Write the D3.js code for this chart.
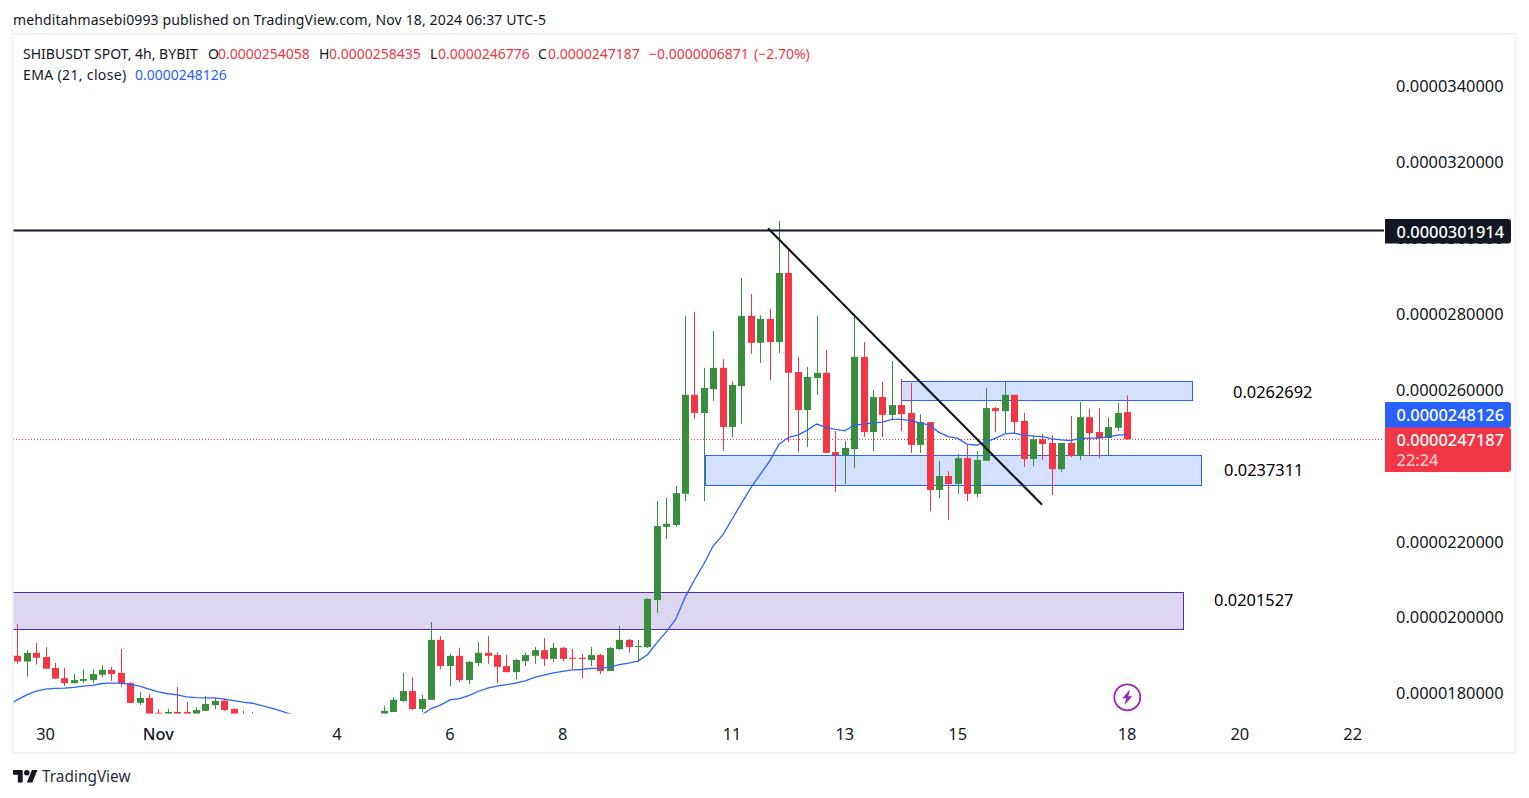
<!DOCTYPE html>
<html>
<head>
<meta charset="utf-8">
<title>SHIBUSDT</title>
<script src="https://cdn.jsdelivr.net/npm/d3@7"></script>
<style>
  html, body { margin: 0; padding: 0; background: #fff; }
  text { font-family: "Noto Sans", sans-serif; }
</style>
</head>
<body>
<svg id="chart" width="1529" height="798"></svg>
<script>
// prices are in units of 0.0000001
// candle 0 sits just left of the visible pane, candles 27-39 are under the pane's bottom edge
const opens = [188.0,
  189.8,188.3,190.6,189.5,186.6,183.9,182.6,183.2,183.4,184.8,
  186.1,185.3,182.6,177.4,178.7,174.8,172.5,175.0,175.0,172.8,
  175.3,176.8,178.0,175.8,172.4,173.9,172.6,171.4,170.2,170.8,
  169.6,168.4,169.2,167.8,168.6,169.8,170.6,171.8,172.4,173.5,
  175.0,177.9,180.5,175.8,178.2,194.0,187.1,189.8,183.4,187.9,
  190.6,190.0,187.1,185.5,188.4,189.8,191.3,189.0,191.9,189.3,
  189.3,188.7,190.0,185.8,191.6,194.0,192.1,192.1,204.5,223.8,
  224.3,232.5,258.6,253.8,260.1,265.7,250.1,260.9,279.4,272.3,
  278.6,272.5,290.7,264.6,254.6,263.0,264.4,243.5,242.7,244.3,
  268.6,248.8,258.0,253.3,255.9,253.8,245.4,251.4,233.5,237.2,
  235.1,241.9,232.5,241.2,255.1,254.3,258.6,251.7,241.7,246.9,
  245.9,239.0,245.9,242.5,252.7,248.8,247.2,249.9,254.06];
const closes = [189.8,
  188.3,190.6,189.3,186.4,183.8,182.6,183.4,183.7,185.0,186.1,
  185.0,182.5,177.4,178.7,172.0,173.6,175.0,173.5,172.8,175.5,
  177.1,177.9,175.5,173.4,174.0,172.6,171.4,170.2,170.8,169.6,
  168.4,169.2,167.8,168.6,169.8,170.6,171.8,172.4,173.5,175.3,
  178.2,180.5,175.8,178.4,194.0,187.1,189.8,183.4,188.2,190.6,
  189.8,186.9,185.5,188.7,190.0,191.3,189.0,191.9,189.0,189.0,
  189.0,190.0,185.8,191.9,194.0,192.1,192.4,204.8,224.0,224.6,
  232.7,258.6,253.8,260.4,265.7,250.1,261.2,279.4,272.3,278.6,
  272.5,290.7,264.4,254.6,263.3,264.4,243.3,242.7,244.6,268.6,
  248.8,258.0,253.3,255.9,253.5,245.4,251.4,233.5,237.2,235.1,
  241.9,232.5,241.4,255.1,254.3,258.6,251.4,241.7,246.9,245.6,
  239.0,245.9,242.5,252.7,248.5,247.2,250.1,253.8,246.9];
const highs = [190.6,
  198.2,191.3,193.2,192.1,187.9,186.6,185.0,186.3,186.3,187.4,
  186.9,191.6,182.9,180.3,179.8,175.8,175.8,181.6,177.6,176.3,
  179.2,178.7,178.4,176.0,175.3,175.0,173.4,172.2,171.6,171.4,
  170.2,170.0,169.8,169.4,170.6,171.4,172.6,173.2,174.0,176.6,
  178.9,185.3,184.2,179.5,198.7,195.0,190.3,191.9,188.4,193.4,
  195.0,190.6,190.0,189.0,190.6,192.1,194.5,193.2,192.1,191.6,
  190.3,192.1,190.3,192.1,197.7,194.2,194.0,205.0,230.6,231.4,
  234.6,279.4,280.4,265.7,275.4,268.0,262.2,289.4,285.2,279.6,
  281.2,304.4,297.0,268.6,265.9,279.4,270.4,249.1,246.4,279.6,
  272.5,259.9,262.0,267.5,262.8,261.7,253.5,251.4,241.2,238.5,
  243.0,245.4,243.8,260.4,255.4,262.0,258.6,253.8,248.0,248.3,
  248.0,245.9,253.0,256.7,254.9,255.1,252.7,256.4,258.44];
const lows = [187.4,
  187.7,184.3,187.5,186.4,183.8,181.9,182.5,182.6,182.6,184.1,
  183.2,181.7,177.4,176.8,171.0,172.5,171.9,172.0,172.0,172.2,
  175.3,175.8,175.3,172.8,171.8,172.0,170.6,169.4,169.6,168.8,
  167.6,167.8,167.0,167.2,168.0,169.2,170.2,171.2,172.0,173.0,
  175.0,177.6,175.5,175.0,178.2,186.3,181.8,182.9,182.4,187.1,
  187.7,182.6,185.5,183.6,187.1,187.7,187.1,188.2,188.4,186.3,
  183.9,187.1,185.0,185.8,191.3,190.6,188.2,191.9,201.1,220.6,
  223.8,230.6,252.2,230.6,257.0,243.8,247.5,250.9,269.4,267.0,
  262.5,269.6,246.2,243.5,244.8,258.6,243.3,233.0,235.1,239.3,
  247.5,243.8,247.5,251.9,249.1,243.3,243.3,227.9,231.4,225.6,
  232.5,230.6,231.6,241.2,248.8,248.5,248.5,239.6,239.8,241.4,
  232.2,238.3,242.2,241.4,242.5,241.9,242.7,249.1,246.78];
const ema21 = [176.8,
  178.2,179.5,180.5,181.0,181.2,181.3,181.5,181.8,182.0,182.5,
  182.6,182.6,182.3,181.8,181.0,180.3,179.8,179.5,179.0,178.8,
  178.7,178.7,178.4,178.0,177.6,177.3,176.7,176.0,175.3,174.5,
  173.8,173.2,172.6,172.1,171.7,171.3,170.9,170.6,170.4,170.6,
  171.2,172.0,173.0,174.2,175.9,176.8,178.2,178.5,179.3,180.4,
  181.3,181.8,182.2,182.6,183.2,184.1,184.7,185.3,185.7,186.1,
  186.2,186.5,186.5,186.8,187.5,187.9,188.4,190.1,193.2,196.1,
  199.4,205.2,209.8,214.0,218.8,221.6,225.8,230.0,234.1,237.6,
  241.1,245.6,247.4,248.0,249.3,250.9,250.0,249.5,249.1,250.6,
  250.9,251.2,251.4,252.1,252.1,251.8,251.2,250.6,248.7,247.6,
  247.1,245.6,245.3,246.2,247.1,248.3,248.5,248.0,247.7,247.6,
  247.0,246.7,246.5,247.1,247.2,247.2,247.5,248.0,248.1];

// 240 sits fully behind the last price tag in the reference, so it is left out
const priceTicks = [340, 320, 300, 280, 260, 220, 200, 180];
const timeTickIndex = [4, 16, 35, 47, 59, 77, 89, 101, 119, 131, 143];
const timeTickLabels = ["30", "Nov", "4", "6", "8", "11", "13", "15", "18", "20", "22"];

const resistanceLevel = 301.914;
const trendFrom = [80.9, 302.3];
const trendTo = [109.9, 229.8];

// zones: first and last candle index, top and bottom price, right hand note
const zoneStart = [-1, 95, 74.1];
const zoneEnd = [125, 125.9, 126.9];
const zoneTop = [206.5, 262.2, 242.7];
const zoneBottom = [196.8, 257.2, 234.75];
const zoneNotes = ["0.0201527", "0.0262692", "0.0237311"];

const svg = d3.select("#chart");

const x = d3.scaleLinear().domain([0, 119]).range([7.9, 1127]);
const y = d3.scaleLinear().domain([340, 180]).range([86, 693]);

const green = "#388e3c";
const red = "#f23645";
const blue = "#2962ff";
const ink = "#131722";

// frame
svg.append("rect").attr("x", 12.5).attr("y", 34).attr("width", 1503).attr("height", 719)
  .attr("fill", "none").attr("stroke", "#f0f3fa").attr("stroke-width", 2);

svg.append("defs").append("clipPath").attr("id", "pane")
  .append("rect").attr("x", 13.5).attr("y", 35).attr("width", 1371).attr("height", 678.5);

const pane = svg.append("g").attr("clip-path", "url(#pane)");

// zones
const zoneFill = ["#dcd7ee", "#d4e0ff", "#d4e0ff"];
const zoneStroke = ["#512da8", "#2962ff", "#2962ff"];
pane.selectAll("rect.zone").data(zoneStart).enter().append("rect")
  .attr("class", "zone")
  .attr("x", (d) => Math.round(x(d)) + 0.5)
  .attr("y", (d, i) => Math.round(y(zoneTop[i])) + 0.5)
  .attr("width", (d, i) => Math.round(x(zoneEnd[i])) - Math.round(x(d)))
  .attr("height", (d, i) => Math.round(y(zoneBottom[i])) - Math.round(y(zoneTop[i])))
  .attr("fill", (d, i) => zoneFill[i])
  .attr("stroke", (d, i) => zoneStroke[i])
  .attr("stroke-width", 1);

// last price dotted line
const lastClose = closes[closes.length - 1];
pane.append("line")
  .attr("x1", 13).attr("x2", 1384)
  .attr("y1", Math.round(y(lastClose)) + 0.5).attr("y2", Math.round(y(lastClose)) + 0.5)
  .attr("stroke", red).attr("stroke-width", 1).attr("stroke-dasharray", "1 2");

// wicks and bodies
const candles = pane.selectAll("g.candle").data(opens).enter().append("g").attr("class", "candle");
const candleColor = (d, i) => (closes[i] >= d ? green : red);

candles.append("rect")
  .attr("x", (d, i) => Math.round(x(i)))
  .attr("y", (d, i) => y(highs[i]))
  .attr("width", 1)
  .attr("height", (d, i) => y(lows[i]) - y(highs[i]))
  .attr("fill", candleColor);

candles.append("rect")
  .attr("x", (d, i) => Math.round(x(i)) - 3)
  .attr("y", (d, i) => y(Math.max(d, closes[i])))
  .attr("width", 7)
  .attr("height", (d, i) => Math.max(1, Math.abs(y(d) - y(closes[i]))))
  .attr("fill", candleColor);

// ema
const emaLine = d3.line().x((d, i) => x(i)).y((d) => y(d));
pane.append("path").datum(ema21)
  .attr("d", emaLine)
  .attr("fill", "none").attr("stroke", blue).attr("stroke-width", 1.3);

// drawn lines
pane.append("line")
  .attr("x1", 13).attr("x2", 1384)
  .attr("y1", y(resistanceLevel)).attr("y2", y(resistanceLevel))
  .attr("stroke", ink).attr("stroke-width", 2);

pane.append("line")
  .attr("x1", x(trendFrom[0])).attr("y1", y(trendFrom[1]))
  .attr("x2", x(trendTo[0])).attr("y2", y(trendTo[1]))
  .attr("stroke", ink).attr("stroke-width", 2.2).attr("stroke-linecap", "round");

// axes
const yAxis = d3.axisRight(y)
  .tickValues(priceTicks)
  .tickSize(0)
  .tickFormat((d) => d3.format(".10f")(d * 1e-7));
const yAxisG = svg.append("g").attr("transform", "translate(1396,0.5)").call(yAxis);
yAxisG.select(".domain").remove();
yAxisG.selectAll("text")
  .attr("x", 0).attr("font-size", 16.4).attr("font-family", "Noto Sans").attr("fill", ink);

const xAxis = d3.axisBottom(x)
  .tickValues(timeTickIndex)
  .tickSize(0)
  .tickFormat((d, i) => timeTickLabels[i]);
const xAxisG = svg.append("g").attr("transform", "translate(-0.5,725)").call(xAxis);
xAxisG.select(".domain").remove();
xAxisG.selectAll("text")
  .attr("font-size", 16.4).attr("font-family", "Noto Sans").attr("fill", ink)
  .attr("font-weight", (d, i) => (timeTickLabels[i] === "Nov" ? 500 : 400));

// zone notes
const zoneNoteX = [1214, 1233, 1224];
const zoneNoteY = [606, 398, 476];
svg.selectAll("text.note").data(zoneNotes).enter().append("text")
  .attr("class", "note")
  .attr("x", (d, i) => zoneNoteX[i])
  .attr("y", (d, i) => zoneNoteY[i])
  .attr("font-size", 16.4)
  .attr("fill", "#000")
  .text((d) => d);

// price tags
const tagBox = (top, h, color) => svg.append("path")
  .attr("d", `M1385 ${top}H1508a3 3 0 0 1 3 3V${top + h - 3}a3 3 0 0 1 -3 3H1385Z`)
  .attr("fill", color);
const tagText = (txt, baseline, color) => svg.append("text")
  .attr("x", 1396.5).attr("y", baseline)
  .attr("font-size", 16.4).attr("font-weight", 500)
  .attr("fill", color).text(txt);

tagBox(219, 24.5, ink);
tagText("0.0000301914", 237.5, "#fff");
tagBox(402, 26, blue);
tagText("0.0000248126", 420.5, "#fff");
tagBox(427.5, 44.5, red);
tagText("0.0000247187", 445.5, "#fff");
tagText("22:24", 465.5, "#ffffffb8");

// header and legend
svg.append("text").attr("x", 13).attr("y", 25).attr("font-size", 14).attr("letter-spacing", 0.14).attr("fill", ink)
  .text("mehditahmasebi0993 published on TradingView.com, Nov 18, 2024 06:37 UTC-5");

const legendBits = ["SHIBUSDT SPOT, 4h, BYBIT", "O", "0.0000254058", "H", "0.0000258435", "L", "0.0000246776", "C", "0.0000247187", "\u22120.0000006871", "(\u22122.70%)"];
const legendX = [23, 208, 218, 319, 329, 430, 438, 538, 548, 649, 754];
const legendColor = [ink, ink, red, ink, red, ink, red, ink, red, red, red];
svg.selectAll("text.legend").data(legendBits).enter().append("text")
  .attr("class", "legend")
  .attr("x", (d, i) => legendX[i])
  .attr("y", 59)
  .attr("font-size", 14)
  .attr("fill", (d, i) => legendColor[i])
  .text((d) => d);

svg.append("text").attr("x", 23).attr("y", 80).attr("font-size", 14).attr("letter-spacing", 0.35).attr("fill", ink).text("EMA (21, close)");
svg.append("text").attr("x", 135).attr("y", 80).attr("font-size", 14).attr("fill", blue).text("0.0000248126");

// lightning mark
const bolt = svg.append("g").attr("transform", "translate(1127.3,697.3)");
bolt.append("circle").attr("r", 13).attr("fill", "none").attr("stroke", "#9c27b0").attr("stroke-width", 1.8);
bolt.append("path").attr("d", "M3 -8L-5 1H-1L-3 8L5 -1H1Z").attr("fill", "#9c27b0");

// logo
const logo = svg.append("g").attr("transform", "translate(13,767.2) scale(0.69)").attr("fill", ink);
logo.append("path").attr("d", "M14 22H7V11H0V4h14v18zM28 22h-8l7.5-18h8L28 22z");
logo.append("circle").attr("cx", 20).attr("cy", 8).attr("r", 4);
svg.append("text").attr("x", 42).attr("y", 781.5).attr("font-size", 15.4).attr("font-family", "Lato").attr("fill", "#2a2e39").text("TradingView");
</script>
</body>
</html>
